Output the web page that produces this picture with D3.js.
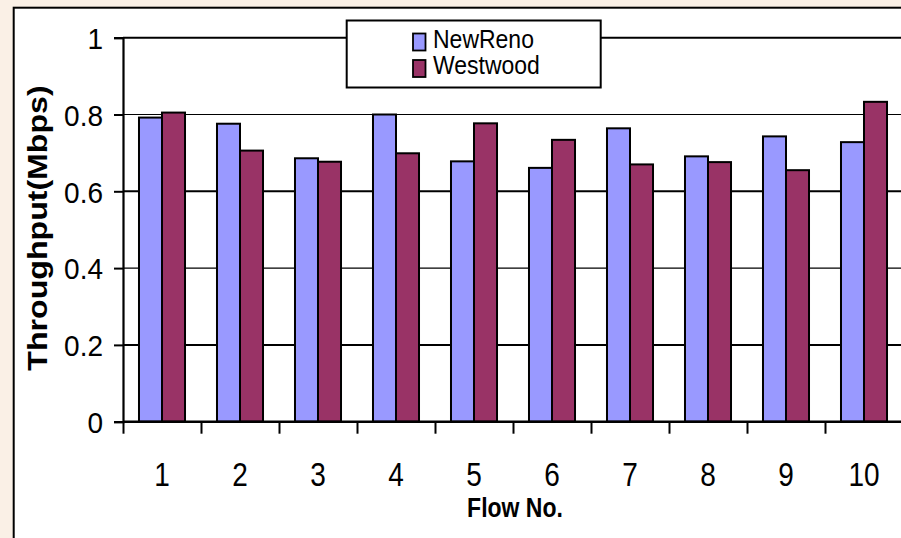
<!DOCTYPE html>
<html>
<head>
<meta charset="utf-8">
<script src="https://cdn.jsdelivr.net/npm/d3@7/dist/d3.min.js"></script>
<style>
  html, body { margin: 0; padding: 0; background: #FAF0E6; }
  svg { display: block; }
  text { font-family: "Liberation Sans", Arial, sans-serif; fill: #000; }
</style>
</head>
<body>
<svg id="chart" width="901" height="538"></svg>
<script>
// Throughput per flow for two TCP variants
const categories = [1, 2, 3, 4, 5, 6, 7, 8, 9, 10];
const seriesNames = ["NewReno", "Westwood"];
const newReno  = [0.792, 0.776, 0.686, 0.800, 0.678, 0.661, 0.764, 0.691, 0.743, 0.728];
const westwood = [0.805, 0.706, 0.677, 0.699, 0.777, 0.734, 0.670, 0.676, 0.655, 0.833];
const yTicks = [0, 0.2, 0.4, 0.6, 0.8, 1];
const colors = ["#9999FF", "#993366"];

const svg = d3.select("#chart");
const W = 901, H = 538;

// page background and white chart frame
svg.append("rect").attr("width", W).attr("height", H).attr("fill", "#FAF0E6");
svg.append("rect")
  .attr("x", 13.7).attr("y", 7.7)
  .attr("width", 920).attr("height", 560)
  .attr("fill", "#fff").attr("stroke", "#000").attr("stroke-width", 2);

const plot = { left: 123, right: 903, top: 37.7, bottom: 421.7 };

const y = d3.scaleLinear().domain([0, 1]).range([plot.bottom, plot.top]);
const x0 = d3.scaleBand().domain(categories)
  .range([plot.left, plot.right])
  .paddingInner(0.41).paddingOuter(0.205);
const x1 = d3.scaleBand().domain(seriesNames).range([0, x0.bandwidth()]);
const xEdges = d3.scaleLinear().domain([0, categories.length]).range([plot.left, plot.right]);

// horizontal gridlines
svg.append("g").selectAll("line")
  .data(yTicks.filter(d => d > 0))
  .join("line")
  .attr("x1", plot.left).attr("x2", W + 5)
  .attr("y1", d => y(d)).attr("y2", d => y(d))
  .attr("stroke", "#000")
  .attr("stroke-width", (d, i) => (i % 2 === 0 ? 2 : 1.2));

// bars
const rows = categories.map((c, i) => ({ cat: c, values: [newReno[i], westwood[i]] }));
const groups = svg.append("g").selectAll("g")
  .data(rows).join("g")
  .attr("transform", d => `translate(${x0(d.cat)},0)`);
groups.selectAll("rect")
  .data(d => d.values.map((v, k) => ({ name: seriesNames[k], v, k })))
  .join("rect")
  .attr("x", d => x1(d.name))
  .attr("width", x1.bandwidth())
  .attr("y", d => y(d.v))
  .attr("height", d => y(0) - y(d.v))
  .attr("fill", d => colors[d.k])
  .attr("stroke", "#000").attr("stroke-width", 2);

// y axis
const yAxis = svg.append("g")
  .attr("transform", `translate(${plot.left},0)`)
  .call(d3.axisLeft(y).tickValues(yTicks).tickSize(9).tickPadding(11)
    .tickFormat(d => d === 0 || d === 1 ? String(d) : d3.format(".1f")(d)));
yAxis.select(".domain").attr("stroke", "#000").attr("stroke-width", 2.2);
yAxis.selectAll(".tick line").attr("stroke", "#000").attr("stroke-width", 2);
yAxis.selectAll(".tick text")
  .attr("font-size", 28).attr("font-family", "Liberation Sans, Arial, sans-serif")
  .attr("dy", "0.36em")
  .attr("transform", "scale(1,1.08)");

// x axis: baseline with boundary ticks
const xTickAxis = svg.append("g")
  .attr("transform", `translate(0,${plot.bottom})`)
  .call(d3.axisBottom(xEdges).tickValues(d3.range(0, categories.length + 1))
    .tickSize(12).tickFormat(""));
xTickAxis.select(".domain").attr("d", `M${plot.left},0H${W + 5}`)
  .attr("stroke", "#000").attr("stroke-width", 2.4);
xTickAxis.selectAll(".tick line").attr("stroke", "#000").attr("stroke-width", 2);

// x axis: category labels
const xLabelAxis = svg.append("g")
  .attr("transform", `translate(0,486)`)
  .call(d3.axisBottom(x0).tickSize(0).tickPadding(0));
xLabelAxis.select(".domain").remove();
xLabelAxis.selectAll(".tick text")
  .attr("font-size", 28).attr("font-family", "Liberation Sans, Arial, sans-serif")
  .attr("y", 0).attr("dy", 0)
  .attr("transform", "scale(1,1.17)");

// axis titles
svg.append("text")
  .attr("transform", "translate(515,516.5) scale(1,1.2)")
  .attr("text-anchor", "middle")
  .attr("font-size", 23).attr("font-weight", "bold")
  .text("Flow No.");

svg.append("text")
  .attr("transform", "translate(46.5,228) rotate(-90) scale(1.19,1)")
  .attr("text-anchor", "middle")
  .attr("font-size", 27).attr("font-weight", "bold")
  .text("Throughput(Mbps)");

// legend
const legend = svg.append("g");
legend.append("rect")
  .attr("x", 346.7).attr("y", 20.5).attr("width", 254).attr("height", 67)
  .attr("fill", "#fff").attr("stroke", "#000").attr("stroke-width", 2);
const legendRows = [
  { name: seriesNames[0], color: colors[0], swatchY: 33.5, base: 48.3 },
  { name: seriesNames[1], color: colors[1], swatchY: 60, base: 74 }
];
const li = legend.selectAll("g.item").data(legendRows).join("g").attr("class", "item");
li.append("rect")
  .attr("x", 413).attr("y", d => d.swatchY)
  .attr("width", 12.5).attr("height", 17)
  .attr("fill", d => d.color).attr("stroke", "#000").attr("stroke-width", 1.8);
li.append("text")
  .attr("transform", d => `translate(433,${d.base}) scale(1,1.15)`)
  .attr("font-size", 23)
  .text(d => d.name);
</script>
</body>
</html>
